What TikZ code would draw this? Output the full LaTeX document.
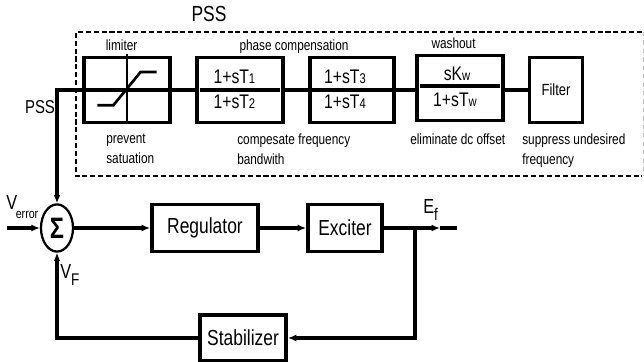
\documentclass[tikz,border=0pt]{standalone}
\usepackage{fontspec}
\setmainfont{Liberation Sans}[FakeStretch=0.8]
\usetikzlibrary{arrows.meta, positioning, shapes.geometric}
\newcommand{\smallsub}[1]{{\fontsize{10}{10}\selectfont #1}}

\begin{document}
\begin{tikzpicture}[
    block/.style={rectangle, draw=black, line width=2.7pt, fill=white, inner sep=0pt,
                  minimum height=1.175cm, font=\fontsize{15.5}{18}\selectfont},
    pssbox/.style={rectangle, draw=black, line width=2.4pt, inner sep=0pt,
                   minimum height=1.625cm, font=\fontsize{11.5}{14}\selectfont},
    sumnode/.style={ellipse, draw=black, line width=1.6pt, inner sep=0pt,
                    minimum width=0.8cm, minimum height=1.18cm, font=\fontsize{21}{24}\selectfont\bfseries},
    wire/.style={line width=2.5pt, draw=black},
    flow/.style={-{Latex[length=6pt, width=5pt]}, line width=2.5pt, draw=black},
    pssframe/.style={line width=2pt, dash pattern=on 3.6pt off 2pt},
    fracterm/.style={anchor=base, inner sep=0pt, font=\fontsize{14}{16}\selectfont},
    note/.style={anchor=north west, inner sep=0pt, align=left, font=\fontsize{10.5}{14.2}\selectfont},
    tag/.style={anchor=base, inner sep=0pt, font=\fontsize{10.5}{12}\selectfont},
    sig/.style={anchor=base west, inner sep=0pt, font=\fontsize{14.5}{16}\selectfont}
  ]
    \useasboundingbox (0,0) rectangle (16.1,-9.025);

    \draw[pssframe] (16.05,-0.8) -- (1.9,-0.8) -- (1.9,-4.4) -- (16.05,-4.4);
    \draw[gray!50, line width=0.6pt, dashed] (16.08,-0.8) -- (16.08,-4.4);
    \node[anchor=base, inner sep=0pt, font=\fontsize{15.5}{18}\selectfont] (psstitle) at (5.225,-0.54) {PSS};

    \node[pssbox, minimum width=2.15cm] (limiter) at (3.175,-2.25) {};
    \node[pssbox, minimum width=2.15cm] (lead1)   at (6.0,-2.25) {};
    \node[pssbox, minimum width=2.1cm]  (lead2)   at (8.8,-2.25) {};
    \node[pssbox, minimum width=2.15cm] (washout) at (11.5,-2.2) {};
    \node[pssbox, minimum width=1.325cm] (filter) at (13.9,-2.25) {Filter};

    \draw[line width=2pt] ([yshift=1pt]limiter.north) -- (limiter.south);
    \draw[line width=3pt] ([xshift=2pt]limiter.west) -- (limiter.east);
    \draw[line width=1.9pt] ([shift={(-0.74,-0.38)}]limiter.center) -- ++(0.4,0)
      -- ([shift={(0.34,0.45)}]limiter.center) -- ++(0.4,0);

    \draw[line width=3pt] ([xshift=3pt]lead1.west) -- ([xshift=-3pt]lead1.east);
    \draw[line width=3pt] (lead2.west) -- (lead2.east);
    \draw[line width=3pt] ([xshift=3pt,yshift=0.05cm]washout.west) -- ([xshift=-3pt,yshift=0.05cm]washout.east);

    \node[fracterm] (lead1num) at ([shift={(-0.14,0.175)}]lead1.center) {1+sT\smallsub{1}};
    \node[fracterm] (lead1den) at ([shift={(-0.14,-0.45)}]lead1.center) {1+sT\smallsub{2}};
    \node[fracterm] (lead2num) at ([shift={(-0.175,0.175)}]lead2.center) {1+sT\smallsub{3}};
    \node[fracterm] (lead2den) at ([shift={(-0.175,-0.45)}]lead2.center) {1+sT\smallsub{4}};
    \node[fracterm] (washnum)  at ([shift={(-0.075,0.2)}]washout.center) {sK\smallsub{w}};
    \node[fracterm] (washden)  at ([shift={(-0.125,-0.45)}]washout.center) {1+sT\smallsub{w}};

    \draw[wire] (limiter.east) -- (lead1.west);
    \draw[wire] (lead1.east) -- (lead2.west);
    \draw[wire] (lead2.east) -- (lead2.east -| washout.west);
    \draw[wire] ([yshift=-0.05cm]washout.east) -- ([yshift=-0.05cm]washout.east -| filter.west);

    \node[tag] (limitertag) at (3.04,-1.267) {limiter};
    \node[tag] (phasetag)   at (7.35,-1.27) {phase compensation};
    \node[tag] (washtag)    at (11.34,-1.21) {washout};

    \node[note] (limiternote) at (2.65,-3.34) {prevent\\satuation};
    \node[note] (leadnote)    at (5.925,-3.34) {compesate frequency\\bandwith};
    \node[note] (washnote)    at (10.25,-3.34) {eliminate dc offset};
    \node[note] (filternote)  at (13.05,-3.34) {suppress undesired\\frequency};

    \node[sumnode] (sum) at (1.425,-5.7) {Σ};
    \node[block, minimum width=2.65cm] (regulator) at (5.125,-5.7) {Regulator};
    \node[block, minimum width=1.85cm] (exciter)   at (8.625,-5.7) {Exciter};
    \node[block, minimum width=2.15cm, minimum height=1.15cm] (stabilizer) at (6.075,-8.45) {Stabilizer};

    \node[anchor=base, inner sep=0pt, font=\fontsize{13.3}{16}\selectfont] (psslabel) at (1.0,-2.83) {PSS};
    \draw[flow] (limiter.west) -| (sum.north);

    \coordinate (verrorin) at (0.175,-5.7);
    \coordinate (branch)   at (10.375,-5.7);
    \coordinate (eftip)    at (11.0,-5.7);
    \coordinate (efout)    at (11.425,-5.7);

    \draw[flow] (verrorin) -- (sum.west);
    \draw[flow] (sum.east) -- (regulator.west);
    \draw[flow] (regulator.east) -- (exciter.west);
    \draw[flow] (exciter.east) -- (eftip);
    \draw[wire] (eftip) -- (efout);
    \draw[flow] (branch) |- (stabilizer.east);
    \draw[flow] (stabilizer.west) -| (sum.south);

    \node[sig] (verror) at (0.15,-5.225) {V\kern-1pt\raisebox{-7pt}{\fontsize{9.5}{11}\selectfont error}};
    \node[sig] (vf)     at (1.5,-6.95) {V\raisebox{-5pt}{\fontsize{12}{14}\selectfont F}};
    \node[sig] (ef)     at (10.575,-5.325) {E\raisebox{-5pt}{\fontsize{12}{14}\selectfont f}};
\end{tikzpicture}
\end{document}
